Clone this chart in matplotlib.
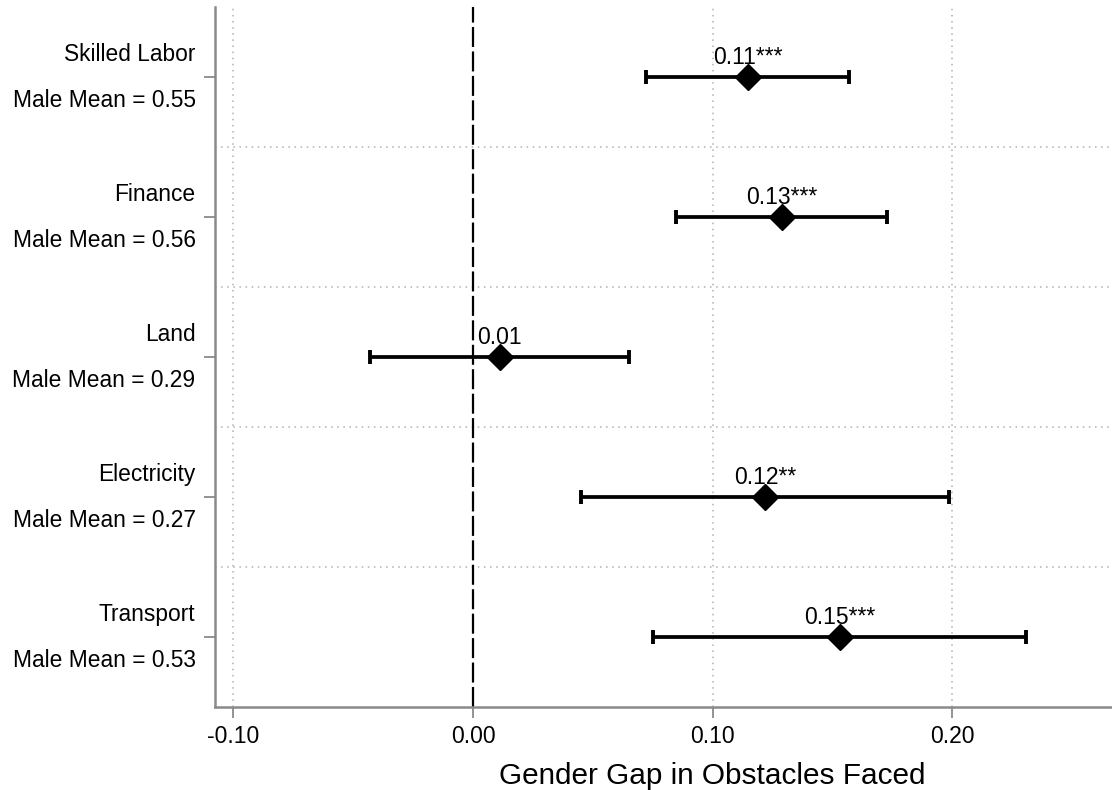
import matplotlib
matplotlib.use("Agg")
import matplotlib.pyplot as plt
from matplotlib.transforms import blended_transform_factory

plt.rcParams["font.family"] = ["Liberation Sans", "DejaVu Sans"]

# data (top to bottom)
categories = ["Skilled Labor", "Finance", "Land", "Electricity", "Transport"]
male_means = [0.55, 0.56, 0.29, 0.27, 0.53]
estimates = [0.1146, 0.1288, 0.0111, 0.1218, 0.1530]
ci_low = [0.0724, 0.0847, -0.0430, 0.0450, 0.0750]
ci_high = [0.1569, 0.1729, 0.0653, 0.1985, 0.2309]
point_labels = ["0.11***", "0.13***", "0.01", "0.12**", "0.15***"]
xticks = [-0.10, 0.00, 0.10, 0.20]
xtick_labels = ["-0.10", "0.00", "0.10", "0.20"]

n = len(categories)
ypos = list(range(n, 0, -1))

fig = plt.figure(figsize=(11.12, 7.9), dpi=100)
ax = fig.add_axes([0.1933, 0.105, 0.8067, 0.886])

grid_kw = dict(color="#b0b0b0", linestyle=(0, (1, 3)), linewidth=1.1, zorder=0)
for xv in xticks:
    if xv != 0:
        ax.axvline(xv, **grid_kw)
for k in range(1, n):
    ax.axhline(k + 0.5, **grid_kw)

ax.axvline(0, color="black", linewidth=1.6, linestyle=(0, (9, 2)), zorder=1)

lo_err = [e - l for e, l in zip(estimates, ci_low)]
hi_err = [h - e for e, h in zip(estimates, ci_high)]
ax.errorbar(estimates, ypos, xerr=[lo_err, hi_err], fmt="D", color="black",
            markersize=13.5, elinewidth=2.7, capsize=4.8, capthick=2.8, zorder=3)

for e, y, lab in zip(estimates, ypos, point_labels):
    ax.annotate(lab, (e, y), xytext=(0, 9.5), textcoords="offset points",
                ha="center", va="baseline", fontsize=16.5, zorder=4)

trans = blended_transform_factory(ax.transAxes, ax.transData)
for cat, mm, y in zip(categories, male_means, ypos):
    ax.annotate(cat, (0, y), xycoords=trans, xytext=(-14, 16.5),
                textcoords="offset points", ha="right", va="center", fontsize=16.4)
    ax.annotate(f"Male Mean = {mm:.2f}", (0, y), xycoords=trans, xytext=(-14, -17),
                textcoords="offset points", ha="right", va="center", fontsize=16.4)

ax.set_yticks(ypos)
ax.set_yticklabels([""] * n)
ax.set_xticks(xticks)
ax.set_xticklabels(xtick_labels, fontsize=16.5)
ax.set_xlim(-0.1077, 0.2667)
ax.set_ylim(0.5, n + 0.5)

for s in ("top", "right"):
    ax.spines[s].set_visible(False)
for s in ("left", "bottom"):
    ax.spines[s].set_color("#8a8a8a")
    ax.spines[s].set_linewidth(1.8)
ax.tick_params(axis="both", color="#8a8a8a", length=8, width=1.3, pad=5)

ax.set_xlabel("Gender Gap in Obstacles Faced", fontsize=21.4)
ax.xaxis.set_label_coords(0.554, -0.079)

fig.savefig("out.png", dpi=100)
